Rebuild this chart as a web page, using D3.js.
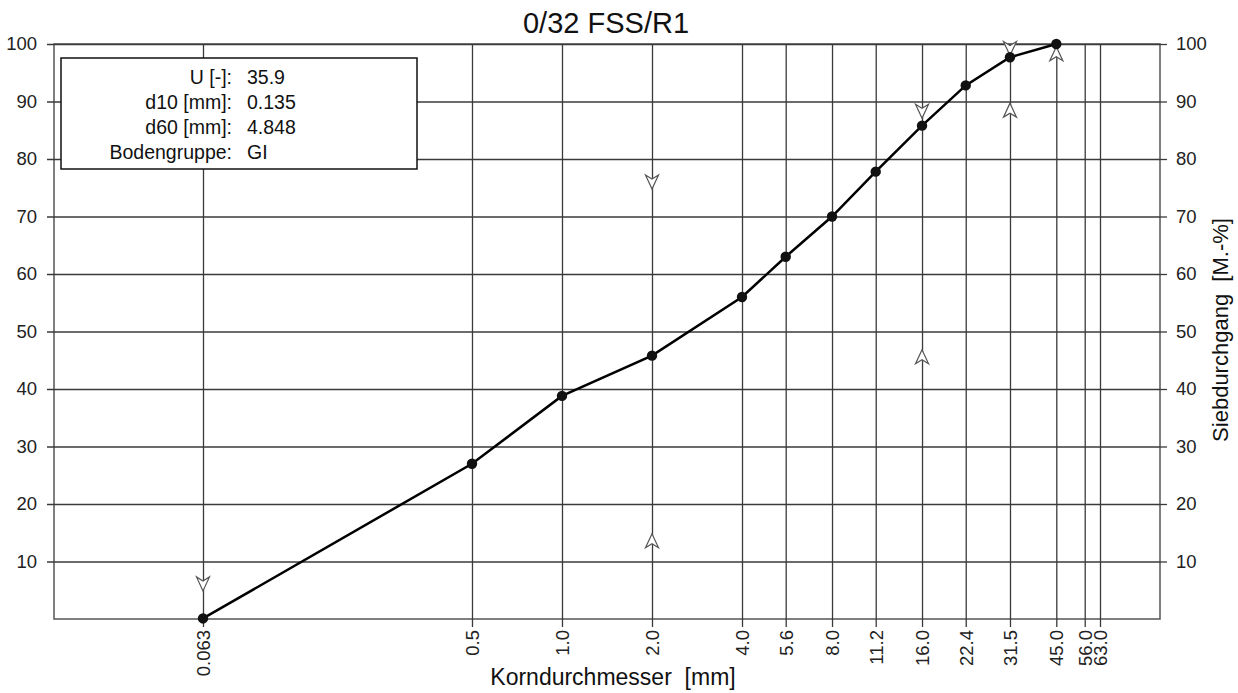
<!DOCTYPE html>
<html>
<head>
<meta charset="utf-8">
<script src="https://cdn.jsdelivr.net/npm/d3@7"></script>
<style>
  html, body { margin: 0; padding: 0; background: #fff; }
  svg { display: block; font-family: "Liberation Sans", Arial, sans-serif; }
</style>
</head>
<body>
<svg id="chart" width="1238" height="693"></svg>
<script>
// ---- data ----
const sieveSizes = [0.063, 0.5, 1.0, 2.0, 4.0, 5.6, 8.0, 11.2, 16.0, 22.4, 31.5, 45.0, 56.0, 63.0];
const sieveLabels = ["0.063", "0.5", "1.0", "2.0", "4.0", "5.6", "8.0", "11.2", "16.0", "22.4", "31.5", "45.0", "56.0", "63.0"];
const curveSizes = [0.063, 0.5, 1.0, 2.0, 4.0, 5.6, 8.0, 11.2, 16.0, 22.4, 31.5, 45.0];
const curvePassing = [0.1, 27.0, 38.8, 45.8, 56.0, 63.0, 70.0, 77.8, 85.8, 92.8, 97.7, 100.0];
const upperLimitSizes = [0.063, 2.0, 16.0, 31.5];
const upperLimitValues = [6.1, 76.0, 88.3, 99.2];
const lowerLimitSizes = [2.0, 16.0, 31.5, 45.0];
const lowerLimitValues = [13.6, 45.6, 88.5, 98.3];
const yTicks = [10, 20, 30, 40, 50, 60, 70, 80, 90, 100];
const infoLabels = ["U [-]:", "d10 [mm]:", "d60 [mm]:", "Bodengruppe:"];
const infoValues = ["35.9", "0.135", "4.848", "GI"];
const titleText = "0/32 FSS/R1";
const xTitle = "Korndurchmesser  [mm]";
const yTitle = "Siebdurchgang  [M.-%]";

// ---- layout ----
const L = 54, R = 1160, T = 44, B = 619;
const svg = d3.select("#chart");
const x = d3.scaleLog().domain([0.02, 100]).range([L, R]);
const y = d3.scaleLinear().domain([0, 100]).range([B, T]);
const gridColor = "#3a3a3a";

// title
svg.append("text").attr("x", 606).attr("y", 33).attr("text-anchor", "middle")
  .style("font-size", "29px").attr("fill", "#111").text(titleText);

// frame
svg.append("rect").attr("x", L).attr("y", T).attr("width", R - L).attr("height", B - T)
  .attr("fill", "none").attr("stroke", "#555").attr("stroke-width", 1.5);

// vertical grid + x labels
const xAxis = d3.axisBottom(x).tickValues(sieveSizes)
  .tickFormat((d, i) => sieveLabels[i])
  .tickSizeInner(-(B + 8 - T)).tickSizeOuter(0).tickPadding(3);
const gx = svg.append("g").attr("transform", `translate(0,${B + 8})`).call(xAxis);
gx.select(".domain").remove();
gx.selectAll(".tick line").attr("stroke", gridColor).attr("stroke-width", 1.3);
gx.selectAll(".tick text")
  .attr("transform", "rotate(-90)")
  .attr("x", -3).attr("y", 0).attr("dy", "0.36em")
  .style("text-anchor", "end").style("font-size", "18.5px").attr("fill", "#222");

// horizontal grid + left labels
const yAxisL = d3.axisLeft(y).tickValues(yTicks)
  .tickSizeInner(-(R - (L - 7))).tickSizeOuter(0).tickPadding(10);
const gyl = svg.append("g").attr("transform", `translate(${L - 7},0)`).call(yAxisL);
gyl.select(".domain").remove();
gyl.selectAll(".tick line").attr("stroke", gridColor).attr("stroke-width", 1.3);
gyl.selectAll(".tick text").style("font-size", "18.5px").attr("fill", "#222");

// right ticks + labels
const yAxisR = d3.axisRight(y).tickValues(yTicks).tickSizeInner(7).tickSizeOuter(0).tickPadding(9);
const gyr = svg.append("g").attr("transform", `translate(${R},0)`).call(yAxisR);
gyr.select(".domain").remove();
gyr.selectAll(".tick line").attr("stroke", gridColor).attr("stroke-width", 1.3);
gyr.selectAll(".tick text").style("font-size", "18.5px").attr("fill", "#222");

// axis titles
svg.append("text").attr("x", 613).attr("y", 685).attr("text-anchor", "middle")
  .style("font-size", "23px").style("white-space", "pre").attr("xml:space", "preserve")
  .attr("fill", "#111").text(xTitle);
svg.append("text").attr("transform", `translate(1228,330) rotate(-90)`).attr("text-anchor", "middle")
  .style("font-size", "22px").style("white-space", "pre").attr("xml:space", "preserve")
  .attr("fill", "#111").text(yTitle);

// limit arrows
const aw = 6.5, ah = 7, notchDepth = 4;
function downArrow(cx, cy) {
  return `M${cx},${cy + ah} L${cx - aw},${cy - ah} L${cx},${cy - ah + notchDepth} L${cx + aw},${cy - ah} Z`;
}
function upArrow(cx, cy) {
  return `M${cx},${cy - ah} L${cx - aw},${cy + ah} L${cx},${cy + ah - notchDepth} L${cx + aw},${cy + ah} Z`;
}
const upperData = upperLimitSizes.map((s, i) => ({ s, v: upperLimitValues[i] }));
const lowerData = lowerLimitSizes.map((s, i) => ({ s, v: lowerLimitValues[i] }));
svg.append("g").selectAll("path").data(upperData).join("path")
  .attr("d", d => downArrow(x(d.s), y(d.v)))
  .attr("fill", "#fff").attr("stroke", "#555").attr("stroke-width", 1.2);
svg.append("g").selectAll("path").data(lowerData).join("path")
  .attr("d", d => upArrow(x(d.s), y(d.v)))
  .attr("fill", "#fff").attr("stroke", "#555").attr("stroke-width", 1.2);

// info box
const box = svg.append("g");
box.append("rect").attr("x", 61).attr("y", 58).attr("width", 356).attr("height", 111)
  .attr("fill", "#fff").attr("stroke", "#111").attr("stroke-width", 1.5);
box.selectAll("text.lab").data(infoLabels).join("text").attr("class", "lab")
  .attr("x", 232).attr("y", (d, i) => 84 + i * 25).attr("text-anchor", "end")
  .style("font-size", "19.5px").attr("fill", "#111").text(d => d);
box.selectAll("text.val").data(infoValues).join("text").attr("class", "val")
  .attr("x", 247).attr("y", (d, i) => 84 + i * 25)
  .style("font-size", "19.5px").attr("fill", "#111").text(d => d);

// curve
const pts = curveSizes.map((s, i) => ({ s, v: curvePassing[i] }));
svg.append("path").datum(pts)
  .attr("d", d3.line().x(d => x(d.s)).y(d => y(d.v)))
  .attr("fill", "none").attr("stroke", "#000").attr("stroke-width", 2.5);
svg.append("g").selectAll("circle").data(pts).join("circle")
  .attr("cx", d => x(d.s)).attr("cy", d => y(d.v)).attr("r", 5.2)
  .attr("fill", "#111");
</script>
</body>
</html>
